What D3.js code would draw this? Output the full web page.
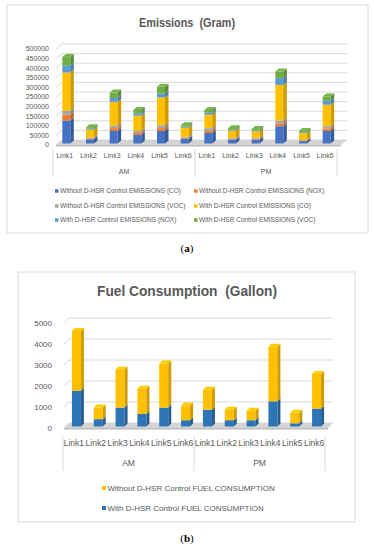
<!DOCTYPE html>
<html>
<head>
<meta charset="utf-8">
<script src="https://cdn.jsdelivr.net/npm/d3@7"></script>
<style>
  body { margin: 0; background: #fff; }
  svg text { font-family: "Liberation Sans", Arial, sans-serif; fill: #595959; white-space: pre; }
</style>
</head>
<body>
<div id="chart"></div>
<script>
// categories
var periods = ['AM', 'PM']
var links = ['Link1', 'Link2', 'Link3', 'Link4', 'Link5', 'Link6']

// emissions (gram), AM links then PM links
var emissionSeries = [
  'Without D-HSR Control EMISSIONS (CO)',
  'Without D-HSR Control EMISSIONS (NOX)',
  'Without D-HSR Control EMISSIONS (VOC)',
  'With D-HSR Control EMISSIONS (CO)',
  'With D-HSR Control EMISSIONS (NOX)',
  'With D-HSR Control EMISSIONS (VOC)'
]
var woCO  = [120000, 22000, 65000, 45000, 65000, 25000, 55000, 20000, 20000, 90000, 12000, 65000]
var woNOX = [30000, 5000, 15000, 10000, 15000, 5000, 12000, 5000, 5000, 15000, 3000, 13000]
var woVOC = [20000, 5000, 12000, 10000, 15000, 5000, 13000, 5000, 5000, 15000, 3000, 12000]
var wCO   = [200000, 40000, 125000, 80000, 145000, 47000, 70000, 37000, 33000, 185000, 35000, 112000]
var wNOX  = [35000, 5000, 20000, 12000, 20000, 5000, 10000, 4000, 4000, 35000, 4000, 20000]
var wVOC  = [45000, 8000, 28000, 18000, 35000, 8000, 15000, 9000, 8000, 35000, 8000, 23000]
var emissionTicks = [0, 50000, 100000, 150000, 200000, 250000, 300000, 350000, 400000, 450000, 500000]

// fuel consumption (gallon)
var fuelSeries = ['With D-HSR Control FUEL CONSUMPTION', 'Without D-HSR Control FUEL CONSUMPTION']
var fuelWith    = [1700, 350, 900, 600, 900, 300, 800, 300, 300, 1200, 150, 850]
var fuelWithout = [2850, 550, 1800, 1200, 2100, 700, 950, 500, 450, 2600, 500, 1650]
var fuelTicks = [0, 1000, 2000, 3000, 4000, 5000]

var svg = d3.select('#chart')
  .append('svg')
  .attr('width', 374)
  .attr('height', 550)

// category keys like "AM|Link1"
var cats = []
periods.forEach(function(p) { links.forEach(function(l) { cats.push(p + '|' + l) }) })

// shade helpers for the 3D faces
function shade(c, k) { return d3.color(c).darker(k).formatHex() }
function tint(c, k) { return d3.color(c).brighter(k).formatHex() }

function draw3D(opt) {
  var g = svg.append('g')

  // frame
  g.append('rect')
    .attr('x', opt.frame[0]).attr('y', opt.frame[1])
    .attr('width', opt.frame[2]).attr('height', opt.frame[3])
    .attr('fill', '#fff').attr('stroke', '#d9d9d9').attr('stroke-width', 1)

  // title
  g.append('text')
    .attr('x', opt.titleX).attr('y', opt.titleY)
    .attr('text-anchor', 'middle')
    .style('font-size', opt.titleSize + 'px')
    .style('font-weight', 'bold')
    .attr('textLength', opt.titleLen)
    .attr('lengthAdjust', 'spacingAndGlyphs')
    .text(opt.title)

  var x = d3.scaleBand().domain(cats).range(opt.xRange)
  var y = d3.scaleLinear().domain(opt.yDomain).range(opt.yRange)
  var dx = opt.wallDx, dy = opt.wallDy
  var fx0 = opt.floor[0], fx1 = opt.floor[1], y0 = y(0)

  // gridlines on side + back wall
  g.selectAll('.grid')
    .data(opt.ticks)
    .enter()
    .append('polyline')
    .attr('points', function(d) {
      return [fx0, y(d), fx0 + dx, y(d) - dy, fx1 + dx, y(d) - dy].join(',')
    })
    .attr('fill', 'none')
    .attr('stroke', '#d9d9d9')
    .attr('stroke-width', 1)

  // floor
  g.append('polygon')
    .attr('points', [fx0, y0, fx1, y0, fx1 + dx, y0 - dy, fx0 + dx, y0 - dy].join(','))
    .attr('fill', '#d4d4d4')
  g.append('polygon')
    .attr('points', [fx0, y0, fx1, y0, fx1, y0 + 1.5, fx0, y0 + 1.5].join(','))
    .attr('fill', '#bdbdbd')

  // y axis labels
  g.selectAll('.ytick')
    .data(opt.ticks)
    .enter()
    .append('text')
    .attr('x', opt.yLabelX)
    .attr('y', function(d) { return y(d) })
    .attr('dy', '0.35em')
    .attr('text-anchor', 'end')
    .style('font-size', opt.fontSize + 'px')
    .text(function(d) { return d })

  // stacked bars
  var rows = cats.map(function(c, i) {
    var r = { cat: c }
    opt.series.forEach(function(s, j) { r[j] = s[i] })
    return r
  })
  var stack = d3.stack().keys(d3.range(opt.series.length))(rows)
  var bw = opt.barW, bd = opt.barD, bh = opt.barH, off = opt.barOff, lift = opt.barLift

  var layers = g.selectAll('.layer')
    .data(stack)
    .enter()
    .append('g')

  var segs = layers.selectAll('g')
    .data(function(d, i) { return d.map(function(p) { return { p: p, c: opt.colors[i] } }) })
    .enter()
    .append('g')

  // front face
  segs.append('rect')
    .attr('x', function(d) { return x(d.p.data.cat) + x.bandwidth() / 2 + off })
    .attr('y', function(d) { return y(d.p[1]) - lift })
    .attr('width', bw)
    .attr('height', function(d) { return y(d.p[0]) - y(d.p[1]) })
    .attr('fill', function(d) { return d.c })

  // side face
  segs.append('polygon')
    .attr('points', function(d) {
      var xr = x(d.p.data.cat) + x.bandwidth() / 2 + off + bw
      var yt = y(d.p[1]) - lift, yb = y(d.p[0]) - lift
      return [xr, yt, xr + bd, yt - bh, xr + bd, yb - bh, xr, yb].join(',')
    })
    .attr('fill', function(d) { return shade(d.c, 0.6) })

  // top face only on the last layer
  layers.filter(function(d, i) { return i === opt.series.length - 1 })
    .selectAll('g')
    .append('polygon')
    .attr('points', function(d) {
      var xl = x(d.p.data.cat) + x.bandwidth() / 2 + off
      var yt = y(d.p[1]) - lift
      return [xl, yt, xl + bw, yt, xl + bw + bd, yt - bh, xl + bd, yt - bh].join(',')
    })
    .attr('fill', function(d) { return tint(d.c, 0.15) })

  // category labels
  g.selectAll('.xlab')
    .data(cats)
    .enter()
    .append('text')
    .attr('x', function(d) { return x(d) + x.bandwidth() / 2 })
    .attr('y', opt.linkY)
    .attr('text-anchor', 'middle')
    .style('font-size', opt.linkSize + 'px')
    .text(function(d) { return d.split('|')[1] })

  // group separators
  var edges = [opt.xRange[0], x('PM|Link1'), opt.xRange[1]]
  g.selectAll('.sep')
    .data(edges)
    .enter()
    .append('line')
    .attr('x1', function(d) { return d }).attr('x2', function(d) { return d })
    .attr('y1', opt.sepY[0]).attr('y2', opt.sepY[1])
    .attr('stroke', '#d9d9d9')

  g.selectAll('.period')
    .data(periods)
    .enter()
    .append('text')
    .attr('x', function(d, i) { return (edges[i] + edges[i + 1]) / 2 })
    .attr('y', opt.periodY)
    .attr('text-anchor', 'middle')
    .style('font-size', opt.linkSize + 'px')
    .text(function(d) { return d })

  // legend
  var lg = g.selectAll('.legend')
    .data(opt.legend)
    .enter()
    .append('g')
    .attr('transform', function(d) { return 'translate(' + d.x + ',' + d.y + ')' })
  lg.append('rect')
    .attr('x', 0).attr('y', -opt.legSq / 2)
    .attr('width', opt.legSq).attr('height', opt.legSq)
    .attr('fill', function(d) { return opt.colors[d.i] })
  lg.append('text')
    .attr('x', opt.legSq + 1.5)
    .attr('dy', '0.35em')
    .style('font-size', opt.legSize + 'px')
    .text(function(d) { return opt.names[d.i] })

  // caption
  g.append('text')
    .attr('x', 187).attr('y', opt.capY)
    .attr('text-anchor', 'middle')
    .style('font-family', '"Liberation Serif", "Times New Roman", serif')
    .style('font-size', '11px')
    .style('fill', '#000')
    .html(opt.caption)
}

// (a) emissions
draw3D({
  frame: [7, 5, 361, 228],
  title: 'Emissions  (Gram)', titleX: 187, titleY: 27, titleSize: 13, titleLen: 96,
  series: [woCO, woNOX, woVOC, wCO, wNOX, wVOC],
  names: emissionSeries,
  colors: ['#4472C4', '#ED7D31', '#A5A5A5', '#FFC000', '#5B9BD5', '#70AD47'],
  xRange: [53, 337],
  yDomain: [0, 500000], yRange: [145, 49],
  ticks: emissionTicks,
  floor: [56, 341], wallDx: 6, wallDy: 5,
  yLabelX: 49, fontSize: 7,
  barW: 8, barD: 3.5, barH: 3, barOff: -2.5, barLift: 1.5,
  linkY: 158, linkSize: 7, sepY: [149, 176], periodY: 174,
  legend: [
    { i: 0, x: 55, y: 191 }, { i: 1, x: 194, y: 191 },
    { i: 2, x: 55, y: 206 }, { i: 3, x: 194, y: 206 },
    { i: 4, x: 55, y: 220 }, { i: 5, x: 194, y: 220 }
  ],
  legSq: 3.5, legSize: 6.5,
  capY: 252, caption: '(<tspan font-weight="bold">a</tspan>)'
})

// (b) fuel consumption
draw3D({
  frame: [18, 272, 337, 250],
  title: 'Fuel Consumption  (Gallon)', titleX: 187, titleY: 296, titleSize: 15, titleLen: 180,
  series: [fuelWith, fuelWithout],
  names: fuelSeries,
  colors: ['#2E75B6', '#FFC000'],
  xRange: [63, 325],
  yDomain: [0, 5000], yRange: [428, 323],
  ticks: fuelTicks,
  floor: [64, 328], wallDx: 5, wallDy: 5,
  yLabelX: 52, fontSize: 8,
  barW: 9, barD: 3, barH: 3, barOff: -2, barLift: 1.5,
  linkY: 446, linkSize: 8.5, sepY: [436, 471], periodY: 466,
  legend: [{ i: 1, x: 102, y: 488 }, { i: 0, x: 102, y: 508 }],
  legSq: 4, legSize: 8,
  capY: 542, caption: '(<tspan font-weight="bold">b</tspan>)'
})
</script>
</body>
</html>
